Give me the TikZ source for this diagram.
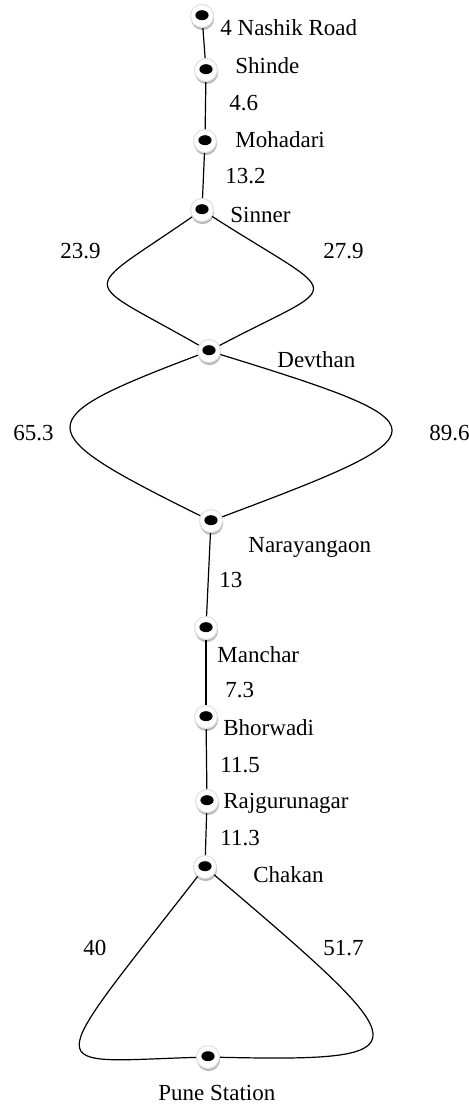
\documentclass[tikz,border=0pt]{standalone}
\usepackage{fontspec}
\setmainfont{Liberation Serif}
\newfontfamily\tnr{Liberation Serif}
\usetikzlibrary{shadows}
\begin{document}
\begin{tikzpicture}[x=0.5pt,y=-0.5pt,
  stn/.style={circle, inner sep=0pt, minimum size=11.5pt, fill=white, draw=gray!25, line width=0.5pt,
    drop shadow={shadow xshift=0.3pt, shadow yshift=-1.3pt, fill=gray!55, opacity=1},
    path picture={\fill[black] ([yshift=0.4pt]path picture bounding box.center) ellipse (3.3pt and 2.5pt);}},
  lbl/.style={anchor=base west, inner sep=0pt, font=\tnr\fontsize{11.5}{13}\selectfont},
  rt/.style={line width=0.6pt, black}]
\useasboundingbox (0,0) rectangle (469,1104);
\fill[white] (0,0) rectangle (469,1104);
% stations
\node[stn] (nas) at (202,16) {};
\node[stn] (shi) at (206,70) {};
\node[stn] (moh) at (205,141) {};
\node[stn] (sin) at (202,210) {};
\node[stn] (dev) at (209,351) {};
\node[stn] (nar) at (211,521) {};
\node[stn] (man) at (206,628) {};
\node[stn] (bho) at (206,717) {};
\node[stn] (raj) at (207,801) {};
\node[stn] (cha) at (205,867) {};
\node[stn] (pun) at (208,1057) {};
% routes
\draw[rt] (nas) -- (shi);
\draw[rt] (shi) -- (moh);
\draw[rt] (moh) -- (sin);
\draw[rt] (sin) .. controls (78,296) and (78,276) .. (dev);
\draw[rt] (sin) .. controls (346,302) and (346,279) .. (dev);
\draw[rt] (dev) .. controls (27,420) and (27,430) .. (nar);
\draw[rt] (dev) .. controls (449,425) and (449,432) .. (nar);
\draw[rt] (nar) -- (man);
\draw[rt] (man) -- (bho);
\draw[rt] (bho) -- (raj);
\draw[rt] (raj) -- (cha);
\draw[rt] (cha) .. controls (40,1079) and (40,1062) .. (pun);
\draw[rt] (cha) .. controls (420,1050) and (430,1062) .. (pun);
% labels
\node[lbl] (lnas) at (220,35) {4 Nashik Road};
\node[lbl] (lshi) at (235,73) {Shinde};
\node[lbl] (d1) at (229,110) {4.6};
\node[lbl] (lmoh) at (235,147) {Mohadari};
\node[lbl] (d2) at (225,183) {13.2};
\node[lbl] (lsin) at (230,222) {Sinner};
\node[lbl] (d3) at (60,258) {23.9};
\node[lbl] (d4) at (323,258) {27.9};
\node[lbl] (ldev) at (277,367) {Devthan};
\node[lbl] (d5) at (13,440) {65.3};
\node[lbl] (d6) at (429,440) {89.6};
\node[lbl] (lnar) at (248,552) {Narayangaon};
\node[lbl] (d7) at (219,587) {13};
\node[lbl] (lman) at (217,662) {Manchar};
\node[lbl] (d8) at (225,697) {7.3};
\node[lbl] (lbho) at (223,735) {Bhorwadi};
\node[lbl] (d9) at (220,772) {11.5};
\node[lbl] (lraj) at (223,808) {Rajgurunagar};
\node[lbl] (d10) at (220,845) {11.3};
\node[lbl] (lcha) at (253,882) {Chakan};
\node[lbl] (d11) at (83,955) {40};
\node[lbl] (d12) at (323,955) {51.7};
\node[lbl] (lpun) at (158,1100) {Pune Station};
\end{tikzpicture}
\end{document}
